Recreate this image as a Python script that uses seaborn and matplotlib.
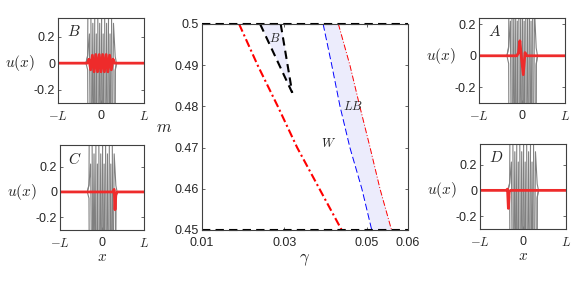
import numpy as np
import pandas as pd
import seaborn as sns
import matplotlib
matplotlib.use("Agg")
import matplotlib.pyplot as plt

# main diagram (gamma, m) boundaries
m_grid = [0.50, 0.49, 0.48, 0.47, 0.46, 0.45]
gam_red_thick = [0.0190, 0.0235, 0.0284, 0.0331, 0.0385, 0.0439]
gam_blue = [0.0394, 0.0415, 0.0435, 0.0459, 0.0488, 0.0512]
gam_red_thin = [0.0431, 0.0459, 0.0483, 0.0508, 0.0532, 0.0560]
b_left_gam = [0.0241, 0.0319]
b_right_gam = [0.0291, 0.0319]
b_m = [0.50, 0.4833]
region_labels = ["$B$", "$LB$", "$W$"]
region_gam = [0.0277, 0.0466, 0.0406]
region_m = [0.4964, 0.480, 0.4709]

# grey profile snapshots (strand positions and peak heights)
strand_x = [-0.27, -0.19, -0.11, -0.03, 0.05, 0.13, 0.21, 0.29]
peak_h = [3.0, 0.30, 0.22]
trough_h = -3.0
wing_h = [0.05, -0.05, 0.06]

# red profiles for each inset
red_b_x = [-1, -0.32, -0.28, -0.24, -0.20, -0.16, -0.12, -0.08, -0.04, 0.0,
           0.04, 0.08, 0.12, 0.16, 0.20, 0.24, 0.28, 0.32, 1]
red_b_y = [0, 0, 0.03, -0.05, 0.06, -0.065, 0.065, -0.065, 0.065, -0.065,
           0.065, -0.065, 0.065, -0.065, 0.06, -0.05, 0.03, 0, 0]
red_a_x = [-1, -0.12, -0.08, -0.05, -0.01, 0.03, 0.07, 0.11, 1]
red_a_y = [0, 0, 0.02, 0.095, -0.02, -0.12, 0.02, 0, 0]
red_c_x = [-1, 0.26, 0.29, 0.31, 0.33, 0.36, 1]
red_c_y = [0, 0, 0.02, -0.14, -0.02, 0, 0]
red_d_x = [-1, -0.39, -0.36, -0.34, -0.32, -0.29, 1]
red_d_y = [0, 0, 0.01, -0.14, -0.01, 0, 0]

sns.set_theme(style="ticks")
plt.rcParams["font.family"] = ["Liberation Sans", "DejaVu Sans"]
plt.rcParams["mathtext.fontset"] = "cm"

W, H = 581, 283
fig = plt.figure(figsize=(W / 100, H / 100), dpi=100)


def box(l, t, r, b):
    return [l / W, 1 - b / H, (r - l) / W, (b - t) / H]


def style_axes(ax):
    for s in ax.spines.values():
        s.set_color("0.25")
        s.set_linewidth(0.8)
    ax.tick_params(direction="in", length=2.5, width=0.6, labelsize=9, pad=2,
                   top=True, right=True, color="0.3")


def inset(rect, red_x, red_y, ylim, letter, xlabel):
    ax = fig.add_axes(box(*rect))
    for k, p in enumerate(peak_h):
        vals = [p if (i + k) % 2 == 0 else trough_h for i in range(len(strand_x))]
        xs = [-1, -0.35, -0.31] + strand_x + [0.33, 0.36, 1]
        ys = [0, 0, wing_h[k]] + vals + [-wing_h[k], 0, 0]
        sns.lineplot(x=xs, y=ys, ax=ax, color="0.5", lw=0.8, sort=False, estimator=None)
    sns.lineplot(x=red_x, y=red_y, ax=ax, color="#ee2b2b", lw=2.0, sort=False, estimator=None)
    ax.set_xlim(-1, 1)
    ax.set_ylim(*ylim)
    ax.set_xticks([-1, 0, 1])
    ax.set_xticklabels([r"$-L$", "0", r"$L$"])
    ax.set_yticks([-0.2, 0, 0.2])
    ax.set_yticklabels(["-0.2", "0", "0.2"])
    style_axes(ax)
    ax.tick_params(axis="x", pad=5)
    ax.text(0.1, 0.93, letter, transform=ax.transAxes, fontsize=11, va="top", ha="left")
    ax.set_ylabel(r"$u(x)$", rotation=0, fontsize=11, ha="right", va="center")
    ax.yaxis.set_label_coords(-0.27, -ylim[0] / (ylim[1] - ylim[0]))
    if xlabel:
        ax.set_xlabel(r"$x$", fontsize=11, labelpad=0)
    else:
        ax.set_xlabel("")
    return ax


inset((58, 18, 144, 103), red_b_x, red_b_y, (-0.30, 0.34), "$B$", False)
inset((60, 145, 144, 230), red_c_x, red_c_y, (-0.30, 0.37), "$C$", True)
inset((479, 18, 565, 103), red_a_x, red_a_y, (-0.30, 0.24), "$A$", False)
inset((480, 144, 566, 229), red_d_x, red_d_y, (-0.30, 0.36), "$D$", True)

# main phase diagram
ax = fig.add_axes(box(202, 24, 408, 230))
fill_col = (0.925, 0.925, 0.99)
ax.fill_betweenx(m_grid, gam_blue, gam_red_thin, color=fill_col, lw=0)
ax.fill_betweenx(b_m, b_left_gam, b_right_gam, color=fill_col, lw=0)
sns.lineplot(x=gam_red_thick, y=m_grid, ax=ax, color="red", lw=1.5, sort=False,
             estimator=None, linestyle=(0, (4, 1.5, 1, 1.5)))
sns.lineplot(x=gam_blue, y=m_grid, ax=ax, color="blue", lw=0.7, sort=False,
             estimator=None, linestyle=(0, (7, 3)))
sns.lineplot(x=gam_red_thin, y=m_grid, ax=ax, color="red", lw=0.7, sort=False,
             estimator=None, linestyle=(0, (6, 2, 1, 2)))
sns.lineplot(x=b_left_gam, y=b_m, ax=ax, color="black", lw=1.5, sort=False,
             estimator=None, linestyle=(0, (4, 2.5)))
sns.lineplot(x=b_right_gam, y=b_m, ax=ax, color="black", lw=1.5, sort=False,
             estimator=None, linestyle=(0, (4, 2.5)))
ax.axhline(0.5, color="black", lw=1.5, linestyle=(0, (4, 2.5)), clip_on=False)
ax.axhline(0.45, color="black", lw=1.5, linestyle=(0, (4, 2.5)), clip_on=False)
for lab, g, mm in zip(region_labels, region_gam, region_m):
    ax.text(g, mm, lab, fontsize=9, ha="center", va="center")
ax.set_xlim(0.01, 0.06)
ax.set_ylim(0.45, 0.50)
ax.set_xticks([0.01, 0.03, 0.05, 0.06])
ax.set_xticklabels(["0.01", "0.03", "0.05", "0.06"])
ax.set_yticks([0.45, 0.46, 0.47, 0.48, 0.49, 0.50])
ax.set_yticklabels(["0.45", "0.46", "0.47", "0.48", "0.49", "0.5"])
style_axes(ax)
ax.tick_params(axis="x", pad=5)
ax.set_xlabel(r"$\gamma$", fontsize=12, labelpad=2)
ax.set_ylabel(r"$m$", fontsize=12, rotation=0, labelpad=8, va="center")

fig.savefig("out.png", dpi=100)
